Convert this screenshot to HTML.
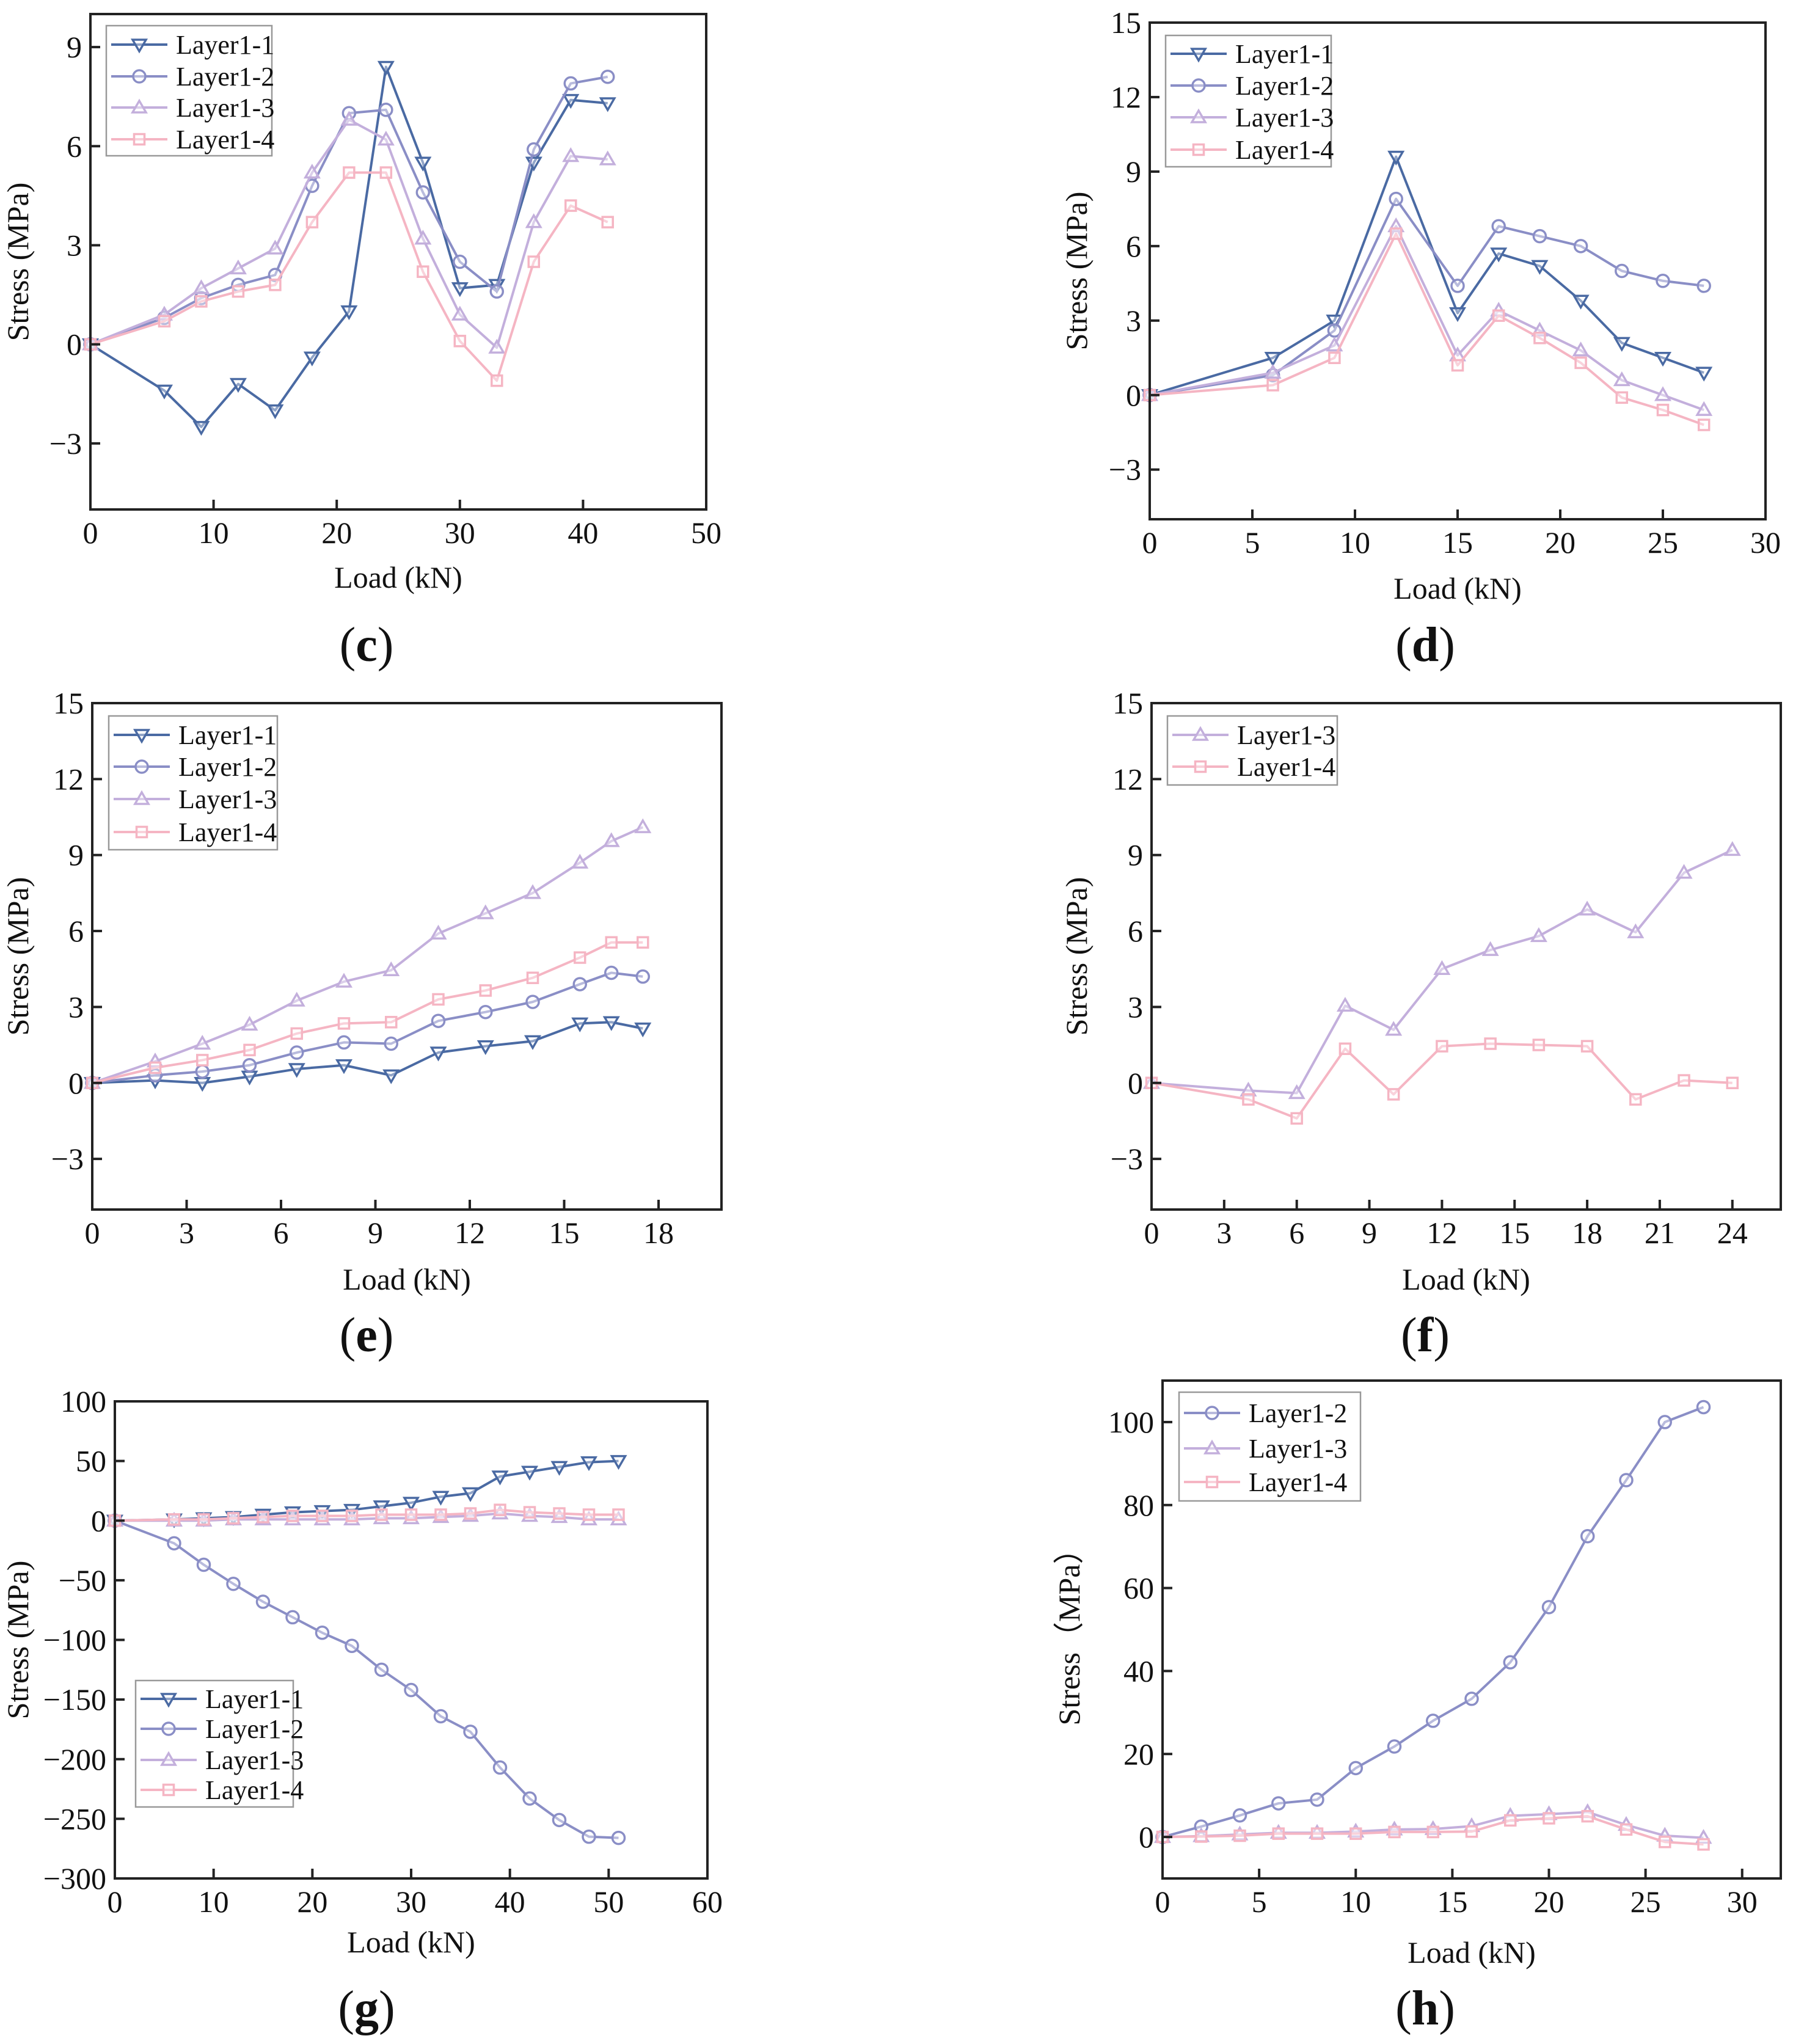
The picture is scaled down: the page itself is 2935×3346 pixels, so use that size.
<!DOCTYPE html>
<html><head><meta charset="utf-8">
<style>
html,body{margin:0;padding:0;background:#fff;}
svg{display:block;}
text{font-family:"Liberation Serif",serif;fill:#111;}
</style></head>
<body>
<svg id="fig" width="2935" height="3346" viewBox="0 0 2935 3346" xmlns="http://www.w3.org/2000/svg"></svg>
<script>
// ---- data ----
const cX=[0,6,9,12,15,18,21,24,27,30,33,36,39,42];
const cL1=[0,-1.4,-2.5,-1.2,-2.0,-0.4,1.0,8.4,5.5,1.7,1.8,5.5,7.4,7.3];
const cL2=[0,0.8,1.4,1.8,2.1,4.8,7.0,7.1,4.6,2.5,1.6,5.9,7.9,8.1];
const cL3=[0,0.9,1.7,2.3,2.9,5.2,6.8,6.2,3.2,0.9,-0.1,3.7,5.7,5.6];
const cL4=[0,0.7,1.3,1.6,1.8,3.7,5.2,5.2,2.2,0.1,-1.1,2.5,4.2,3.7];
const dX=[0,6,9,12,15,17,19,21,23,25,27];
const dL1=[0,1.5,3.0,9.6,3.3,5.7,5.2,3.8,2.1,1.5,0.9];
const dL2=[0,0.8,2.6,7.9,4.4,6.8,6.4,6.0,5.0,4.6,4.4];
const dL3=[0,0.9,2.0,6.8,1.6,3.4,2.6,1.8,0.6,0.0,-0.6];
const dL4=[0,0.4,1.5,6.5,1.2,3.2,2.3,1.3,-0.1,-0.6,-1.2];
const eX=[0,2,3.5,5,6.5,8,9.5,11,12.5,14,15.5,16.5,17.5];
const eL1=[0,0.1,0,0.25,0.55,0.7,0.3,1.2,1.45,1.65,2.35,2.4,2.15];
const eL2=[0,0.3,0.45,0.7,1.2,1.6,1.55,2.45,2.8,3.2,3.9,4.35,4.2];
const eL3=[0,0.85,1.55,2.3,3.25,4.0,4.45,5.9,6.7,7.5,8.7,9.55,10.1];
const eL4=[0,0.6,0.9,1.3,1.95,2.35,2.4,3.3,3.65,4.15,4.95,5.55,5.55];
const fX=[0,4,6,8,10,12,14,16,18,20,22,24];
const fL3=[0,-0.3,-0.4,3.05,2.1,4.5,5.25,5.8,6.85,5.95,8.3,9.2];
const fL4=[0,-0.65,-1.4,1.35,-0.45,1.45,1.55,1.5,1.45,-0.65,0.1,0];
const gX=[0,6,9,12,15,18,21,24,27,30,33,36,39,42,45,48,51];
const gL1=[0,1,2,3,5,7,8,9,12,15,20,23,37,41,45,49,50];
const gL2=[0,-19,-37,-53,-68,-81,-94,-105,-125,-142,-164,-177,-207,-233,-251,-265,-266];
const gL3=[0,0,0,1,1,1,1,1,2,2,3,4,6,4,3,1,1];
const gL4=[0,1,1,2,3,4,4,4,5,5,5,6,9,7,6,5,5];
const hX=[0,2,4,6,8,10,12,14,16,18,20,22,24,26,28];
const hL2=[0,2.5,5.2,8.1,9,16.6,21.8,28,33.3,42.1,55.4,72.5,86,100,103.6];
const hL3=[0,0.2,0.6,1,1,1.3,1.8,1.9,2.6,5.1,5.5,6,2.9,0.3,-0.2];
const hL4=[0,0.1,0.3,0.8,0.8,0.8,1.2,1.2,1.3,4,4.5,5,1.8,-1.2,-1.8];
const ticks15=[-3,0,3,6,9,12,15];
const cYT=[-3,0,3,6,9], cXT=[0,10,20,30,40,50];
const dXT=[0,5,10,15,20,25,30];
const eXT=[0,3,6,9,12,15,18];
const fXT=[0,3,6,9,12,15,18,21,24];
const gYT=[-300,-250,-200,-150,-100,-50,0,50,100], gXT=[0,10,20,30,40,50,60];
const hYT=[0,20,40,60,80,100], hXT=[0,5,10,15,20,25,30];

const STY={L1:{c:'#4a6aa3',m:'tri-down',n:'Layer1-1'},L2:{c:'#8a8ec6',m:'circle',n:'Layer1-2'},
L3:{c:'#c3afdc',m:'tri-up',n:'Layer1-3'},L4:{c:'#f5b5c3',m:'square',n:'Layer1-4'}};
const NS='http://www.w3.org/2000/svg';
const svg=document.getElementById('fig');
function mk(tag,attrs,parent){const e=document.createElementNS(NS,tag);for(const k in attrs)e.setAttribute(k,attrs[k]);(parent||svg).appendChild(e);return e;}
function marker(g,type,x,y,col){
  let e;const r=10;
  if(type==='circle')e=mk('circle',{cx:x,cy:y,r:r},g);
  else if(type==='square')e=mk('rect',{x:x-8.5,y:y-8.5,width:17,height:17},g);
  else if(type==='tri-up')e=mk('polygon',{points:`${x},${y-11} ${x-11},${y+8} ${x+11},${y+8}`},g);
  else e=mk('polygon',{points:`${x},${y+11} ${x-11},${y-8} ${x+11},${y-8}`},g);
  e.setAttribute('fill','#fff');e.setAttribute('fill-opacity','0.4');e.setAttribute('stroke',col);e.setAttribute('stroke-width','3.5');
  
  
}
function panel(p){
  const g=mk('g',{});
  
  
  const X=v=>p.l+(v-p.xmin)/(p.xmax-p.xmin)*(p.r-p.l);
  const Y=v=>p.b-(v-p.ymin)/(p.ymax-p.ymin)*(p.b-p.t);
  for(const s of p.series){
    const st=STY[s.k];
    const sg=mk('g',{},g);
    
    
    const pts=p.x.map((xv,i)=>X(xv)+','+Y(s.v[i])).join(' ');
    mk('polyline',{points:pts,fill:'none',stroke:st.c,'stroke-width':4,'stroke-linejoin':'round'},sg);
    p.x.forEach((xv,i)=>marker(sg,st.m,X(xv),Y(s.v[i]),st.c));
  }
  const fr=mk('rect',{x:p.l,y:p.t,width:p.r-p.l,height:p.b-p.t,fill:'none',stroke:'#222','stroke-width':4},g);
  
  
  const xa=mk('g',{},g);
  
  
  for(const t of p.xt){
    mk('line',{x1:X(t),x2:X(t),y1:p.b,y2:p.b-16,stroke:'#222','stroke-width':4},xa);
    const tx=mk('text',{x:X(t),y:p.b+55,'text-anchor':'middle','font-size':50},xa);tx.textContent=t;
    
    
  }
  const ya=mk('g',{},g);
  
  
  for(const t of p.yt){
    mk('line',{x1:p.l,x2:p.l+16,y1:Y(t),y2:Y(t),stroke:'#222','stroke-width':4},ya);
    const tx=mk('text',{x:p.l-14,y:Y(t)+17,'text-anchor':'end','font-size':50},ya);tx.textContent=t<0?'\u2212'+(-t):t;
    
    
  }
  const xt=mk('text',{x:(p.l+p.r)/2,y:p.xty,'text-anchor':'middle','font-size':50},g);xt.textContent='Load (kN)';
  
  
  const cy=(p.t+p.b)/2;
  const yt=mk('text',{x:p.ytx,y:cy,'text-anchor':'middle','font-size':50,transform:`rotate(-90 ${p.ytx} ${cy})`},g);
  yt.textContent=p.ylab||'Stress (MPa)';
  
  
  const lb=mk('text',{x:p.labx,y:p.laby,'text-anchor':'middle','font-size':80},g);
  lb.innerHTML='(<tspan font-weight="bold">'+p.id+'</tspan>)';
  
  
  const lg=mk('g',{},g);
  
  
  mk('rect',{x:p.lg[0],y:p.lg[1],width:p.lg[2]-p.lg[0],height:p.lg[3]-p.lg[1],fill:'#fff',stroke:'#999','stroke-width':2.5},lg);
  p.series.forEach((s,i)=>{
    const st=STY[s.k];const y=p.ly[i];const x0=p.lg[0]+8;
    const en=mk('g',{},lg);
    
    
    mk('line',{x1:x0,x2:x0+92,y1:y,y2:y,stroke:st.c,'stroke-width':4},en);
    marker(en,st.m,x0+46,y,st.c);
    const t=mk('text',{x:x0+106,y:y+15,'font-size':44},en);t.textContent=st.n;
  });
}
panel({id:'c',l:148,r:1156,t:23,b:834,xmin:0,xmax:50,ymin:-5,ymax:10,x:cX,xt:cXT,yt:cYT,
 series:[{k:'L1',v:cL1},{k:'L2',v:cL2},{k:'L3',v:cL3},{k:'L4',v:cL4}],
 xty:962,ytx:46,labx:600,laby:1082,lg:[174,42,445,255],ly:[73,125,176,228]});
panel({id:'d',l:1882,r:2890,t:37,b:850,xmin:0,xmax:30,ymin:-5,ymax:15,x:dX,xt:dXT,yt:ticks15,
 series:[{k:'L1',v:dL1},{k:'L2',v:dL2},{k:'L3',v:dL3},{k:'L4',v:dL4}],
 xty:980,ytx:1779,labx:2333,laby:1082,lg:[1908,58,2179,273],ly:[88,140,192,245]});
panel({id:'e',l:151,r:1181,t:1151,b:1980,xmin:0,xmax:20,ymin:-5,ymax:15,x:eX,xt:eXT,yt:ticks15,
 series:[{k:'L1',v:eL1},{k:'L2',v:eL2},{k:'L3',v:eL3},{k:'L4',v:eL4}],
 xty:2111,ytx:46,labx:600,laby:2212,lg:[178,1172,454,1391],ly:[1203,1255,1308,1362]});
panel({id:'f',l:1885,r:2915,t:1151,b:1980,xmin:0,xmax:26,ymin:-5,ymax:15,x:fX,xt:fXT,yt:ticks15,
 series:[{k:'L3',v:fL3},{k:'L4',v:fL4}],
 xty:2111,ytx:1779,labx:2333,laby:2212,lg:[1911,1172,2189,1285],ly:[1203,1255]});
panel({id:'g',l:188,r:1158,t:2294,b:3075,xmin:0,xmax:60,ymin:-300,ymax:100,x:gX,xt:gXT,yt:gYT,
 series:[{k:'L1',v:gL1},{k:'L2',v:gL2},{k:'L3',v:gL3},{k:'L4',v:gL4}],
 xty:3196,ytx:46,labx:600,laby:3314,lg:[222,2751,480,2958],ly:[2781,2830,2881,2930]});
panel({id:'h',l:1903,r:2915,t:2260,b:3075,xmin:0,xmax:32,ymin:-10,ymax:110,x:hX,xt:hXT,yt:hYT,
 series:[{k:'L2',v:hL2},{k:'L3',v:hL3},{k:'L4',v:hL4}],ylab:'Stress\uFF08MPa\uFF09',
 xty:3213,ytx:1767,labx:2333,laby:3314,lg:[1930,2279,2227,2457],ly:[2313,2371,2426]});
</script>
</body></html>
